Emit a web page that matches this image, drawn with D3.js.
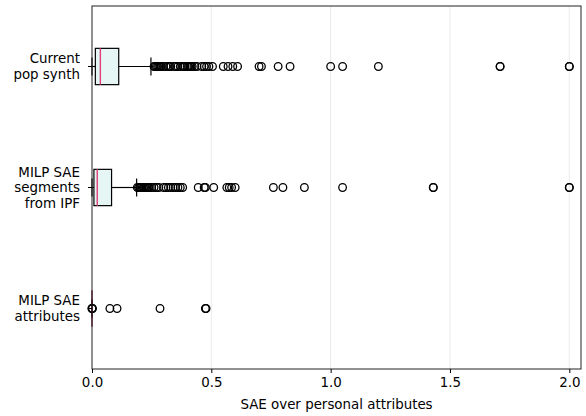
<!DOCTYPE html>
<html>
<head>
<meta charset="utf-8">
<script src="https://cdn.jsdelivr.net/npm/d3@7"></script>
<style>
  html, body { margin: 0; padding: 0; background: #fff; }
  svg { display: block; font-family: "DejaVu Sans", sans-serif; }
</style>
</head>
<body>
<svg id="chart" width="586" height="416"></svg>
<script>
// ---- data ----
const categories = ["Current\npop synth", "MILP SAE\nsegments\nfrom IPF", "MILP SAE\nattributes"];
const q1Values = [0.014, 0.008, 0.0];
const medianValues = [0.035, 0.022, 0.0];
const q3Values = [0.112, 0.082, 0.0];
const whiskerLow = [0.0, 0.0, 0.0];
const whiskerHigh = [0.247, 0.187, 0.0];
const outliersCurrent = [0.26, 0.265, 0.27, 0.275, 0.28, 0.285, 0.29, 0.30, 0.31, 0.32, 0.325, 0.33, 0.345, 0.35, 0.36, 0.37, 0.38, 0.385, 0.39, 0.40, 0.405, 0.41, 0.415, 0.42, 0.43, 0.44, 0.46, 0.47, 0.48, 0.49, 0.505, 0.55, 0.57, 0.59, 0.61, 0.70, 0.71, 0.78, 0.83, 1.00, 1.05, 1.20, 1.71, 1.71, 2.00, 2.00];
const outliersSegments = [0.19, 0.195, 0.20, 0.205, 0.21, 0.215, 0.22, 0.225, 0.23, 0.235, 0.24, 0.25, 0.26, 0.27, 0.28, 0.30, 0.31, 0.32, 0.33, 0.34, 0.35, 0.36, 0.37, 0.38, 0.445, 0.47, 0.475, 0.51, 0.565, 0.575, 0.585, 0.60, 0.76, 0.80, 0.89, 1.05, 1.43, 1.43, 2.00, 2.00];
const outliersAttributes = [0.0, 0.0, 0.002, 0.075, 0.105, 0.285, 0.475, 0.478];
const outliers = [outliersCurrent, outliersSegments, outliersAttributes];
const xTicks = [0.0, 0.5, 1.0, 1.5, 2.0];
const xLabel = "SAE over personal attributes";

// ---- layout ----
const W = 586, H = 416;
const margin = { top: 6, right: 5, bottom: 47, left: 92 };
const FS = 13.4;
const svg = d3.select("#chart");
const iw = W - margin.left - margin.right;
const ih = H - margin.top - margin.bottom;

const x = d3.scaleLinear().domain([0, 2.049]).range([margin.left, margin.left + iw]);
const y = d3.scaleBand().domain(categories).range([margin.top, margin.top + ih]).paddingInner(0).paddingOuter(0);
const boxH = y.bandwidth() * 0.3;
const capH = boxH * 0.5;

// grid
svg.append("g").selectAll("line").data(xTicks.filter(d => d > 0)).join("line")
  .attr("x1", d => x(d)).attr("x2", d => x(d))
  .attr("y1", margin.top).attr("y2", margin.top + ih)
  .attr("stroke", "#ebebeb").attr("stroke-width", 1);

// boxes
const stats = categories.map((c, i) => ({
  c, q1: q1Values[i], med: medianValues[i], q3: q3Values[i],
  lo: whiskerLow[i], hi: whiskerHigh[i], out: outliers[i]
}));

const g = svg.append("g");
stats.forEach(s => {
  const cy = y(s.c) + y.bandwidth() / 2;
  const grp = g.append("g");
  grp.append("line").attr("x1", x(s.lo)).attr("x2", x(s.q1)).attr("y1", cy).attr("y2", cy)
    .attr("stroke", "#000").attr("stroke-width", 1.2);
  grp.append("line").attr("x1", x(s.q3)).attr("x2", x(s.hi)).attr("y1", cy).attr("y2", cy)
    .attr("stroke", "#000").attr("stroke-width", 1.2);
  [s.lo, s.hi].forEach(v => {
    grp.append("line").attr("x1", x(v)).attr("x2", x(v))
      .attr("y1", cy - capH / 2).attr("y2", cy + capH / 2)
      .attr("stroke", "#000").attr("stroke-width", 1.2);
  });
  grp.append("rect").attr("x", x(s.q1)).attr("y", cy - boxH / 2)
    .attr("width", Math.max(0, x(s.q3) - x(s.q1))).attr("height", boxH)
    .attr("fill", "#e6f6f5").attr("stroke", "#000").attr("stroke-width", 1.2);
  grp.append("line").attr("x1", x(s.med)).attr("x2", x(s.med))
    .attr("y1", cy - boxH / 2).attr("y2", cy + boxH / 2)
    .attr("stroke", s.med === 0 ? "#7a1f3d" : "#e0407a").attr("stroke-width", 1.4);
  grp.selectAll("circle").data(s.out).join("circle")
    .attr("cx", d => x(d)).attr("cy", cy).attr("r", 3.8)
    .attr("fill", "none").attr("stroke", "#000").attr("stroke-width", 1.3);
});

// frame
svg.append("rect").attr("x", margin.left).attr("y", margin.top)
  .attr("width", iw).attr("height", ih)
  .attr("fill", "none").attr("stroke", "#222").attr("stroke-width", 1);

// x axis
const xAxis = svg.append("g").attr("transform", `translate(0,${margin.top + ih})`)
  .call(d3.axisBottom(x).tickValues(xTicks).tickFormat(d3.format(".1f")).tickSize(4).tickPadding(4));
xAxis.select(".domain").remove();
xAxis.selectAll("line").attr("stroke", "#000").attr("stroke-width", 1);
xAxis.selectAll("text").attr("font-size", FS).attr("fill", "#000")
  .attr("font-family", "DejaVu Sans, sans-serif");

// y axis
const yAxis = svg.append("g").attr("transform", `translate(${margin.left},0)`)
  .call(d3.axisLeft(y).tickSize(4).tickPadding(6));
yAxis.select(".domain").remove();
yAxis.selectAll("line").attr("stroke", "#000").attr("stroke-width", 1);
yAxis.selectAll("text").each(function(d) {
  const t = d3.select(this);
  const lines = d.split("\n");
  const lh = 15.5;
  t.text(null).attr("font-size", FS).attr("fill", "#000")
    .attr("font-family", "DejaVu Sans, sans-serif").attr("dy", null);
  lines.forEach((ln, i) => {
    t.append("tspan").attr("x", -12)
      .attr("y", (i - (lines.length - 1) / 2) * lh)
      .attr("dy", "0.35em").text(ln);
  });
});

// x label
svg.append("text").attr("x", margin.left + iw / 2).attr("y", 409)
  .attr("text-anchor", "middle").attr("font-size", FS).attr("fill", "#000")
  .text(xLabel);
</script>
</body>
</html>
